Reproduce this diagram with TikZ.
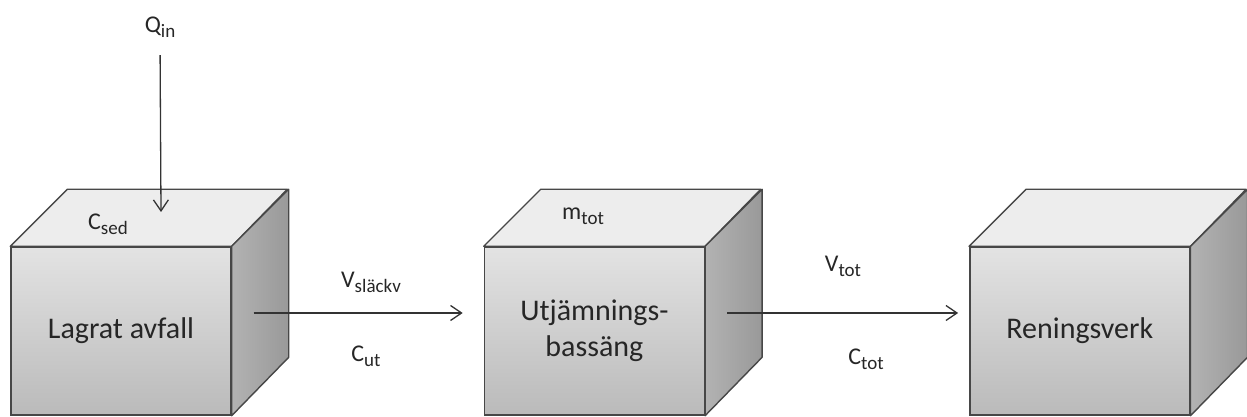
\documentclass[tikz,border=0pt]{standalone}
\usepackage{fontspec}
\setmainfont{Carlito}
\usetikzlibrary{positioning,arrows.meta}

\newcommand\subtxt[1]{\raisebox{-5pt}{\fontsize{19}{22}\selectfont #1}}

\tikzset{
  front/.style={draw=black!72, line width=1.4pt, minimum width=220pt, minimum height=168pt,
    top color=black!11, bottom color=black!27, inner sep=0pt, align=center,
    font=\fontsize{30}{36}\selectfont, text=black!85},
  topface/.style={draw=black!72, line width=1.4pt, fill=black!7, line join=round},
  sideface/.style={draw=black!72, line width=1.4pt, left color=black!30, right color=black!40, line join=round},
  flow/.style={-{Straight Barb[length=11pt,width=15pt]}, line width=1.3pt, black!80},
  lbl/.style={font=\fontsize{24}{28}\selectfont, text=black!85, inner sep=0pt, anchor=base}
}

\begin{document}
\begin{tikzpicture}[x=1pt,y=1pt]
  \useasboundingbox (0,0) rectangle (1247,417);

  % the three tanks (front faces)
  \node[front] (lager) at (121,86) {Lagrat avfall};
  \node[front, right=252pt of lager] (utj) {Utjämnings-\\bassäng};
  \node[front, right=264pt of utj] (rening) {Reningsverk};

  % top and side faces
  \foreach \b in {lager,utj,rening}{
    \draw[topface] (\b.north west) -- ++(57,57) -- ++(220,0) -- (\b.north east) -- cycle;
    \draw[sideface] (\b.north east) -- ++(57,57) -- ++(0,-168) -- (\b.south east) -- cycle;
  }

  % inflow from above
  \node[lbl] (qin) at (160,384) {Q\subtxt{in}};
  \coordinate (qtip) at (161,205);
  \draw[flow, shorten <=17pt] (qin.south) -- (qtip);

  \node[lbl] (csed) at (108,187) {C\subtxt{sed}};
  \node[lbl] (mtot) at (583,197) {m\subtxt{tot}};

  % flows between the tanks
  \coordinate (a1) at ([xshift=22pt,yshift=18pt]lager.east);
  \coordinate (b1) at ([xshift=-21pt,yshift=18pt]utj.west);
  \coordinate (a2) at ([xshift=22pt,yshift=18pt]utj.east);
  \coordinate (b2) at ([xshift=-11pt,yshift=18pt]rening.west);
  \draw[flow] (a1) -- (b1);
  \draw[flow] (a2) -- (b2);

  \node[lbl] (vslv) at (371,129) {V\subtxt{släckv}};
  \node[lbl] (cut) at (366,55) {C\subtxt{ut}};
  \node[lbl] (vtot) at (843,145) {V\subtxt{tot}};
  \node[lbl] (ctot) at (866,52) {C\subtxt{tot}};
\end{tikzpicture}
\end{document}
